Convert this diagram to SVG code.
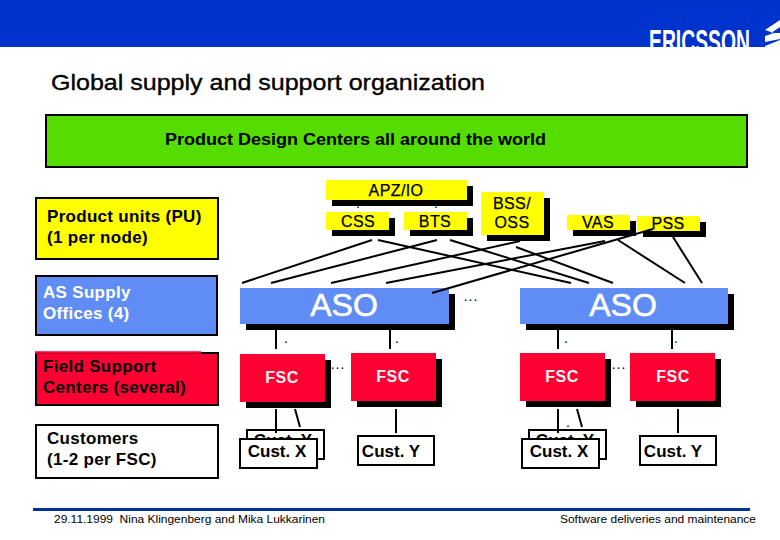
<svg xmlns="http://www.w3.org/2000/svg" width="780" height="540" viewBox="0 0 780 540">
<style>
text{font-family:"Liberation Sans",Arial,sans-serif;fill:#000}
.b{font-weight:bold}
.m{text-anchor:middle}
.y{fill:#ff0}.s{fill:#000}
.a{fill:#5f8cf5}.r{fill:#f03}
.box{stroke:#000;stroke-width:2}
.w{fill:#fff}
text.w{fill:#fff}
.u{font-size:16px;letter-spacing:.4px;stroke:#000;stroke-width:.25px}
.f{font-size:16px;font-weight:bold;letter-spacing:.5px;fill:#f4f4f4}
.c{font-size:17px;font-weight:bold}
.l{font-size:17px;font-weight:bold;letter-spacing:.3px}
.aso{font-size:32px;stroke:#fff;stroke-width:.6px}
.con line{stroke:#000;stroke-width:2}
.dots{font-size:14px}
</style>
<defs><clipPath id="hc"><rect x="0" y="0" width="780" height="47"/></clipPath></defs>
<rect width="780" height="540" fill="#fff"/>
<g id="header">
<rect width="780" height="47" fill="#0033cc"/>
<g clip-path="url(#hc)">
<text x="649" y="53" font-size="33" font-weight="bold" textLength="101" lengthAdjust="spacingAndGlyphs" style="fill:#fff">ERICSSON</text>
<path d="M765 30L780 20V27L771 33L780 33V39L765 42L765 36L774 33ZM765 46L780 40V47H765Z" fill="#fff"/>
</g>
</g>
<text id="title" x="51" y="90" font-size="22" textLength="434" lengthAdjust="spacingAndGlyphs" stroke="#000" stroke-width=".35">Global supply and support organization</text>
<g id="pdc"><rect x="46" y="115" width="701" height="52" fill="#55dd00" class="box"/>
<text x="165" y="145" class="b" font-size="16" textLength="381" lengthAdjust="spacingAndGlyphs">Product Design Centers all around the world</text></g>

<g id="legend-pu"><rect x="36" y="198" width="182" height="61" class="y box"/>
<text x="47" y="222" class="l">Product units (PU)</text><text x="47" y="243" class="l">(1 per node)</text></g>
<g id="legend-aso"><rect x="36" y="276" width="181" height="59" class="a box"/>
<text x="43" y="298" class="l w">AS Supply</text><text x="43" y="319" class="l w">Offices (4)</text></g>
<g id="legend-fsc"><rect x="36" y="353" width="182" height="52" class="r box"/><line x1="35" y1="352.500" x2="201" y2="352.500" stroke="#f03" stroke-width="2.500"/>
<text x="43" y="372" class="l">Field Support</text><text x="43" y="393" class="l">Centers (several)</text></g>
<g id="legend-cust"><rect x="36" y="425" width="182" height="53" class="w box"/>
<text x="47" y="444" class="l">Customers</text><text x="47" y="465" class="l">(1-2 per FSC)</text></g>

<g id="apzio"><rect x="332" y="186" width="141" height="20" class="s"/><rect x="326" y="180" width="141" height="20" class="y"/><text x="396" y="196" class="m u">APZ/IO</text></g>
<g id="css"><rect x="332" y="218" width="63" height="18" class="s"/><rect x="326" y="212" width="63" height="18" class="y"/><text x="358" y="227" class="m u">CSS</text></g>
<g id="bts"><rect x="410" y="218" width="63" height="18" class="s"/><rect x="404" y="212" width="63" height="18" class="y"/><text x="435" y="227" class="m u">BTS</text></g>
<g id="bss"><rect x="487" y="198" width="63" height="43" class="s"/><rect x="481" y="192" width="63" height="43" class="y"/><text x="512" y="209" class="m u">BSS/</text><text x="512" y="228" class="m u">OSS</text></g>
<g id="vas"><rect x="573" y="221" width="63" height="15" class="s"/><rect x="567" y="215" width="63" height="15" class="y"/><text x="598" y="228" class="m u">VAS</text></g>
<g id="pss"><rect x="643" y="222" width="63" height="15" class="s"/><rect x="637" y="216" width="63" height="15" class="y"/><text x="668" y="229" class="m u">PSS</text></g>

<g id="aso1"><rect x="246" y="294" width="209" height="36" class="s"/><rect x="240" y="288" width="209" height="36" class="a"/><text x="344" y="316" class="m w aso">ASO</text></g>
<g id="aso2"><rect x="526" y="294" width="208" height="36" class="s"/><rect x="520" y="288" width="208" height="36" class="a"/><text x="623" y="316" class="m w aso">ASO</text></g>

<g id="fsc1"><rect x="246" y="360" width="85" height="48" class="s"/><rect x="240" y="354" width="85" height="48" class="r"/><text x="282" y="383" class="m f">FSC</text></g>
<g id="fsc2"><rect x="357" y="359" width="85" height="48" class="s"/><rect x="351" y="353" width="85" height="48" class="r"/><text x="393" y="382" class="m f">FSC</text></g>
<g id="fsc3"><rect x="526" y="359" width="85" height="48" class="s"/><rect x="520" y="353" width="85" height="48" class="r"/><text x="562" y="382" class="m f">FSC</text></g>
<g id="fsc4"><rect x="636" y="359" width="85" height="48" class="s"/><rect x="630" y="353" width="85" height="48" class="r"/><text x="673" y="382" class="m f">FSC</text></g>

<g id="custy-back1"><rect x="247" y="430" width="77" height="29" class="w box"/><text x="283" y="446" class="m c">Cust. Y</text></g>
<g id="custx1"><rect x="240" y="439" width="77" height="29" class="w box"/><text x="277" y="457" class="m c">Cust. X</text></g>
<g id="custy1"><rect x="358" y="436" width="76" height="29" class="w box"/><text x="391" y="457" class="m c">Cust. Y</text></g>
<g id="custy-back2"><rect x="529" y="430" width="77" height="29" class="w box"/><text x="565" y="446" class="m c">Cust. Y</text></g>
<g id="custx2"><rect x="522" y="439" width="77" height="29" class="w box"/><text x="559" y="457" class="m c">Cust. X</text></g>
<g id="custy2"><rect x="640" y="436" width="76" height="29" class="w box"/><text x="673" y="457" class="m c">Cust. Y</text></g>

<g class="con" id="connectors">
<line x1="372" y1="240" x2="242" y2="283"/>
<line x1="437" y1="240" x2="271" y2="283"/>
<line x1="520" y1="241" x2="331" y2="283"/>
<line x1="605" y1="241" x2="386" y2="283"/>
<line x1="653" y1="229" x2="432" y2="293"/>
<line x1="378" y1="240" x2="571" y2="283"/>
<line x1="450" y1="240" x2="589" y2="283"/>
<line x1="516" y1="247" x2="613" y2="283"/>
<line x1="618" y1="240" x2="685" y2="283"/>
<line x1="673" y1="237" x2="702" y2="283"/>
<line x1="276" y1="330" x2="276" y2="349"/>
<line x1="390" y1="330" x2="390" y2="349"/>
<line x1="558" y1="330" x2="558" y2="349"/>
<line x1="672" y1="330" x2="672" y2="349"/>
<line x1="276" y1="409" x2="276" y2="433"/>
<line x1="295" y1="409" x2="300" y2="427"/>
<line x1="396" y1="409" x2="396" y2="433"/>
<line x1="558" y1="409" x2="558" y2="433"/>
<line x1="577" y1="409" x2="582" y2="427"/>
<line x1="678" y1="409" x2="678" y2="433"/>
</g>

<g id="dots" class="dots">
<text x="358" y="208" class="m">.</text><text x="436" y="208" class="m">.</text>
<text x="471" y="301" class="m" letter-spacing="1">...</text>
<text x="286" y="343" class="m">.</text><text x="397" y="343" class="m">.</text>
<text x="566" y="343" class="m">.</text><text x="676" y="343" class="m">.</text>
<text x="338" y="369" class="m" letter-spacing="1">...</text>
<text x="619" y="369" class="m" letter-spacing="1">...</text>
<text x="568" y="427" class="m">.</text>
</g>

<rect id="footer-rule" x="33" y="508" width="717" height="3" fill="#003399"/>
<text id="footer-left" x="54" y="523" font-size="11" textLength="271" lengthAdjust="spacingAndGlyphs" xml:space="preserve">29.11.1999  Nina Klingenberg and Mika Lukkarinen</text>
<text id="footer-right" x="560" y="523" font-size="11" textLength="196" lengthAdjust="spacingAndGlyphs">Software deliveries and maintenance</text>
</svg>
